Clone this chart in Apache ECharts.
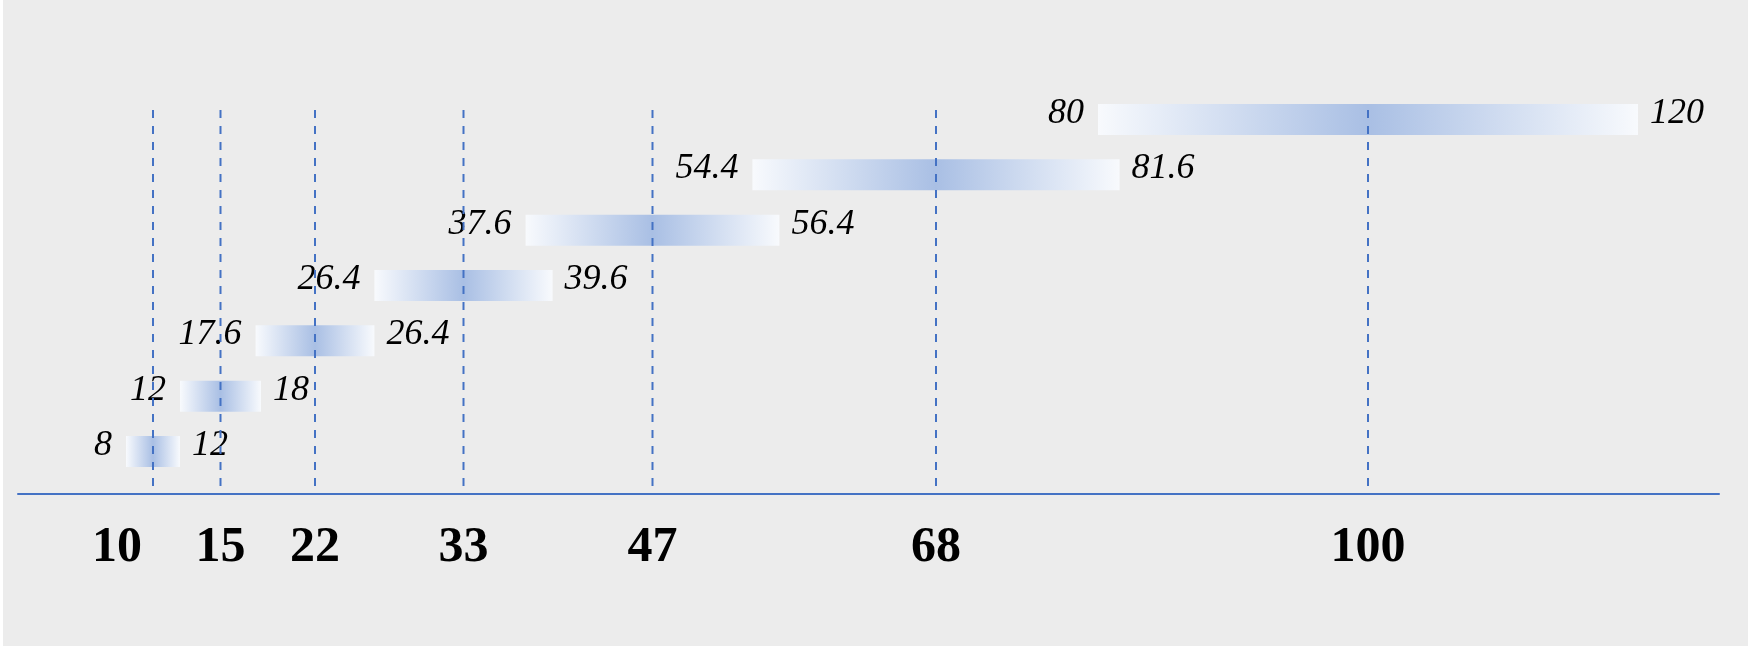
<!DOCTYPE html>
<html>
<head>
<meta charset="utf-8">
<script src="https://cdn.jsdelivr.net/npm/echarts@6/dist/echarts.min.js"></script>
<style>
    html, body { margin: 0; padding: 0; background: #fff; }
    #main { position: absolute; left: 3px; top: 0; width: 1745px; height: 646px; }
</style>
</head>
<body>
<div id="main"></div>
<script>
// nominal values (E6-style series) and their +/-20% tolerance bands
var nominals = [10, 15, 22, 33, 47, 68, 100];
var lowValues = [8, 12, 17.6, 26.4, 37.6, 54.4, 80];
var highValues = [12, 18, 26.4, 39.6, 56.4, 81.6, 120];
var tickLabels = ['10', '15', '22', '33', '47', '68', '100'];

var barData = [];
for (var i = 0; i < nominals.length; i++) {
    barData.push([lowValues[i], highValues[i], i, nominals[i]]);
}
var guideData = nominals.map(function (v) { return [v, 0]; });

var labelFont = {
    fontFamily: '"Liberation Serif", "Times New Roman", serif',
    fontStyle: 'italic',
    fontSize: 36,
    fill: '#000'
};

function renderBar(params, api) {
    var lo = api.value(0), hi = api.value(1), row = api.value(2), mid = api.value(3);
    var p0 = api.coord([lo, row]);
    var p1 = api.coord([hi, row]);
    var pm = api.coord([mid, row]);
    var h = 31;
    var w = p1[0] - p0[0];
    var c = (pm[0] - p0[0]) / w;
    return {
        type: 'group',
        children: [
            {
                type: 'rect',
                shape: { x: p0[0], y: p0[1] - h / 2, width: w, height: h },
                style: {
                    fill: new echarts.graphic.LinearGradient(0, 0, 1, 0, [
                        { offset: 0, color: '#f8fafd' },
                        { offset: c, color: '#a9bfe4' },
                        { offset: 1, color: '#f8fafd' }
                    ])
                }
            },
            {
                type: 'text',
                x: p0[0] - 14,
                y: p0[1] - 6,
                style: Object.assign({ text: String(lo), align: 'right', verticalAlign: 'middle' }, labelFont)
            },
            {
                type: 'text',
                x: p1[0] + 12,
                y: p0[1] - 6,
                style: Object.assign({ text: String(hi), align: 'left', verticalAlign: 'middle' }, labelFont)
            }
        ]
    };
}

function renderGuide(params, api) {
    var x = api.coord([api.value(0), 0])[0];
    var top = params.coordSys.y;
    var bottom = params.coordSys.y + params.coordSys.height - 7;
    return {
        type: 'line',
        shape: { x1: x, y1: top, x2: x, y2: bottom },
        style: { stroke: '#4472c4', lineWidth: 2, lineDash: [8, 8] }
    };
}

var myChart = echarts.init(document.getElementById('main'));

var option = {
    backgroundColor: '#ececec',
    animation: false,
    grid: {
        left: 15,
        right: 29,
        top: 110,
        bottom: 152,
        containLabel: false,
        outerBoundsMode: 'none'
    },
    xAxis: {
        type: 'value',
        min: 0,
        max: 126,
        splitLine: { show: false },
        axisTick: { show: false },
        axisLine: { show: true, onZero: false, lineStyle: { color: '#4472c4', width: 2 } },
        axisLabel: {
            customValues: nominals,
            margin: 29,
            color: '#000',
            fontFamily: '"Liberation Serif", "Times New Roman", serif',
            fontWeight: 'bold',
            fontSize: 50,
            formatter: function (v) {
                var idx = nominals.indexOf(v);
                var txt = idx >= 0 ? tickLabels[idx] : '';
                if (txt === '10') return '{shift|' + txt + '}';
                return txt;
            },
            rich: {
                shift: {
                    padding: [0, 72, 0, 0],
                    color: '#000',
                    fontFamily: '"Liberation Serif", "Times New Roman", serif',
                    fontWeight: 'bold',
                    fontSize: 50
                }
            }
        }
    },
    yAxis: {
        type: 'value',
        min: -0.768,
        max: 6.172,
        show: false
    },
    series: [
        {
            name: 'bands',
            type: 'custom',
            renderItem: renderBar,
            data: barData,
            z: 2
        },
        {
            name: 'nominal',
            type: 'custom',
            renderItem: renderGuide,
            data: guideData,
            z: 3
        }
    ]
};
myChart.setOption(option);
</script>
</body>
</html>
